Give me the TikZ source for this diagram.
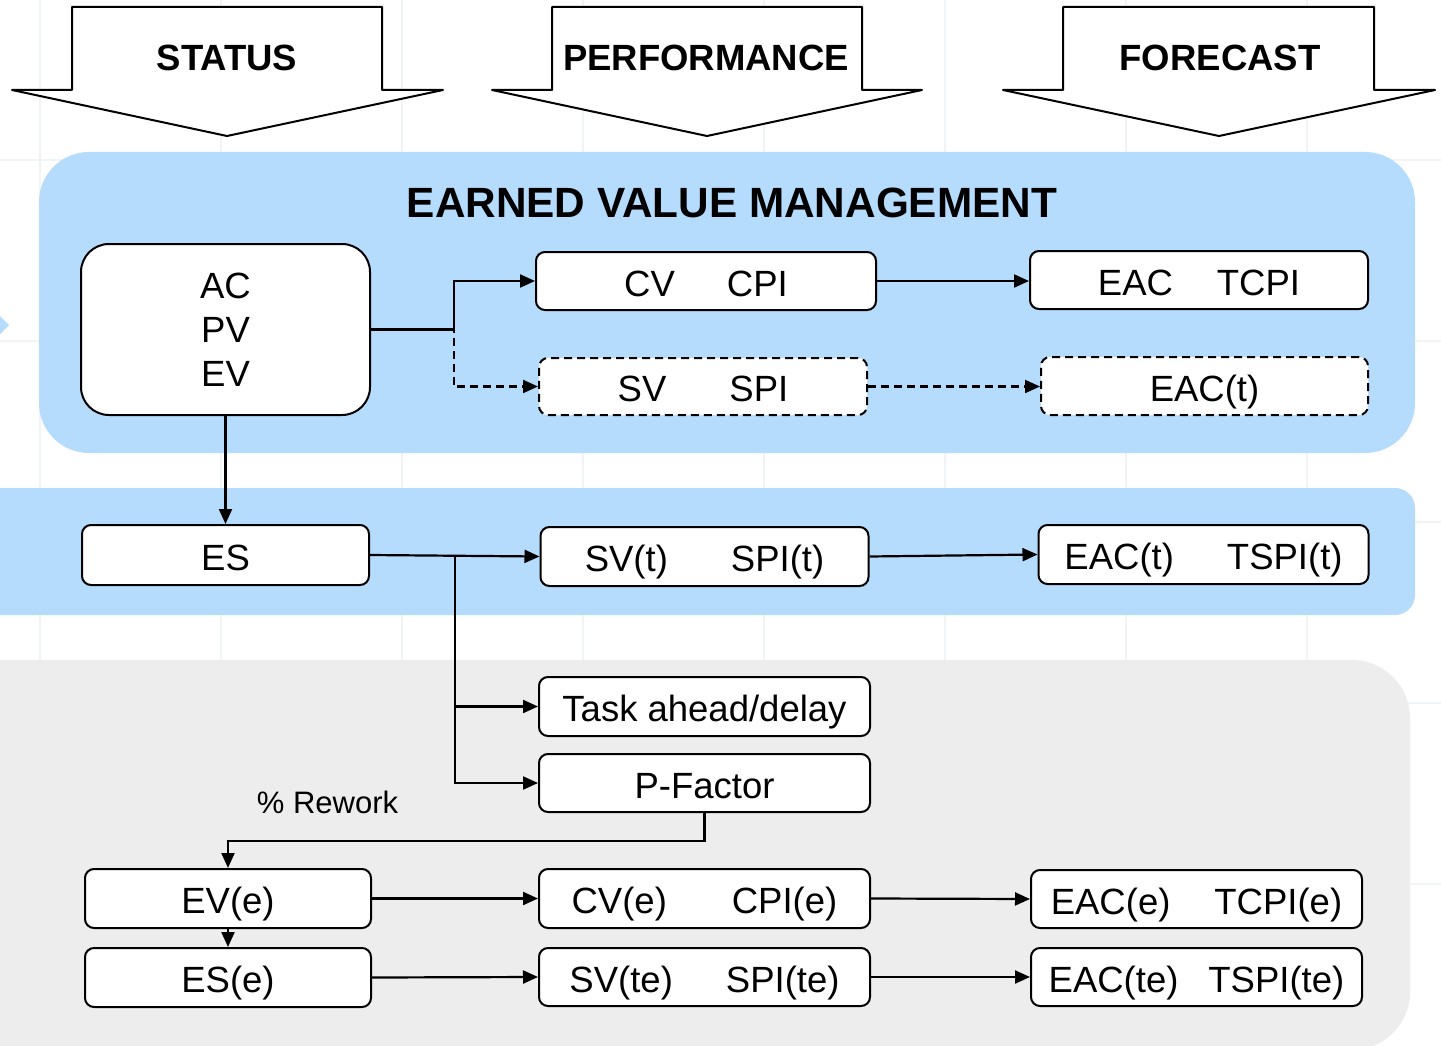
\documentclass[tikz,border=0pt]{standalone}
\usepackage{fontspec}
\setmainfont{Liberation Sans}
\usetikzlibrary{arrows.meta}
\definecolor{evblue}{RGB}{181,219,253}
\definecolor{evgray}{RGB}{237,237,237}
\definecolor{gridc}{RGB}{241,244,247}
\begin{document}
\begin{tikzpicture}[x=1pt,y=-1pt,
  boxbase/.style={draw=black, fill=white, line width=2pt, rounded corners=9pt, inner sep=0pt, font=\fontsize{36.5}{44}\selectfont},
  box/.style={boxbase, text height=30pt, text depth=0pt},
  dbox/.style={box, dash pattern=on 8pt off 5pt},
  conn/.style={line width=2.2pt, -{Triangle[length=15pt,width=13pt]}},
  dconn/.style={conn, dash pattern=on 8pt off 5pt},
  bigarrow/.style={draw=black, fill=white, line width=2pt, line join=round},
  head/.style={font=\fontsize{36.5}{40}\selectfont\bfseries, anchor=base},
]
\useasboundingbox (0,0) rectangle (1441,1046);
\clip (0,0) rectangle (1441,1046);
\fill[white] (0,0) rectangle (1441,1046);
% faint grid
\foreach \gx in {40,221,402,583,764,945,1126,1307}
  \draw[gridc, line width=2.5pt] (\gx,0) -- (\gx,1046);
\foreach \gy in {160,341,522,703,884}
  \draw[gridc, line width=2.5pt] (0,\gy) -- (1441,\gy);
% background regions
\fill[evblue, rounded corners=50pt] (39,152) rectangle (1415,453);
\fill[evblue, rounded corners=20pt] (-40,488) rectangle (1415,615);
\fill[evgray, rounded corners=58pt] (-80,660) rectangle (1410,1050);
\fill[evblue] (0,316) -- (9,325) -- (0,334) -- cycle;
% block arrows
\draw[bigarrow] (72,7) -- (382,7) -- (382,90) -- (443,90) -- (227,136) -- (12,90) -- (72,90) -- cycle;
\draw[bigarrow] (552,7) -- (862,7) -- (862,90) -- (922,90) -- (707,136) -- (492,90) -- (552,90) -- cycle;
\draw[bigarrow] (1063,7) -- (1374,7) -- (1374,90) -- (1435,90) -- (1219,136) -- (1003,90) -- (1063,90) -- cycle;
\node[head] (status) at (227,71) {STATUS};
\node[head] (perf) at (706,71) {PERFORMANCE};
\node[head] (fore) at (1220,71) {FORECAST};
\node[font=\fontsize{42.3}{46}\selectfont\bfseries, anchor=base] (title) at (732,218) {EARNED VALUE MANAGEMENT};
% boxes
\node[boxbase, rounded corners=28pt, minimum width=289pt, minimum height=171pt, align=center] (acpv) at (225.5,329.5) {AC\\PV\\EV};
\node[box, minimum width=340pt, minimum height=58pt] (cvcpi) at (706,281) {CV\hspace{52pt}CPI};
\node[dbox, minimum width=328pt, minimum height=57pt] (svspi) at (703,386.5) {SV\hspace{63pt}SPI};
\node[box, minimum width=338pt, minimum height=58pt] (eac) at (1199,280) {EAC\hspace{44pt}TCPI};
\node[dbox, minimum width=327pt, minimum height=58pt] (eact) at (1204.5,386) {EAC(t)};
\node[box, minimum width=287pt, minimum height=60pt] (es) at (225.5,555) {ES};
\node[box, minimum width=328pt, minimum height=59pt] (svt) at (704.5,556.5) {SV(t)\hspace{63pt}SPI(t)};
\node[box, minimum width=330pt, minimum height=59pt] (eactt) at (1203.5,554.5) {EAC(t)\hspace{53pt}TSPI(t)};
\node[box, minimum width=331pt, minimum height=59pt] (task) at (704.5,706.5) {Task ahead/delay};
\node[box, minimum width=331pt, minimum height=58pt] (pf) at (704.5,783) {P-Factor};
\node[box, minimum width=286pt, minimum height=59pt] (eve) at (228,898.5) {EV(e)};
\node[box, minimum width=286pt, minimum height=59pt] (ese) at (228,977.5) {ES(e)};
\node[box, minimum width=331pt, minimum height=59pt] (cve) at (704.5,898.5) {CV(e)\hspace{65pt}CPI(e)};
\node[box, minimum width=331pt, minimum height=58pt] (svte) at (704.5,977) {SV(te)\hspace{53pt}SPI(te)};
\node[box, minimum width=331pt, minimum height=58pt] (eace) at (1196.5,899) {EAC(e)\hspace{44pt}TCPI(e)};
\node[box, minimum width=331pt, minimum height=58pt] (eacte) at (1196.5,977) {EAC(te)\hspace{30pt}TSPI(te)};
\node[font=\fontsize{31}{35}\selectfont, anchor=base] (rework) at (327.5,813) {\% Rework};
% connectors
\coordinate (j1) at (454,329.5);
\coordinate (j2) at (455,555);
\coordinate (j3) at (228,841);
\draw[conn] (acpv.east) -- (j1) |- (cvcpi.west);
\draw[dconn] (acpv.east) -- (j1) |- (svspi.west);
\draw[conn] (cvcpi.east) -- (cvcpi.east -| eac.west);
\draw[dconn] (svspi.east) -- (svspi.east -| eact.west);
\draw[conn] (acpv.south) -- (es.north);
\draw[conn] (es.east) -- (svt.west);
\draw[conn] (j2) |- (task.west);
\draw[conn] (j2) |- (pf.west);
\draw[conn] (svt.east) -- (eactt.west);
\draw[conn] (pf.south) |- (j3) -- (eve.north);
\draw[conn] (eve.south) -- (ese.north);
\draw[conn] (eve.east) -- (cve.west);
\draw[conn] (ese.east) -- (svte.west);
\draw[conn] (cve.east) -- (eace.west);
\draw[conn] (svte.east) -- (eacte.west);
\end{tikzpicture}
\end{document}
